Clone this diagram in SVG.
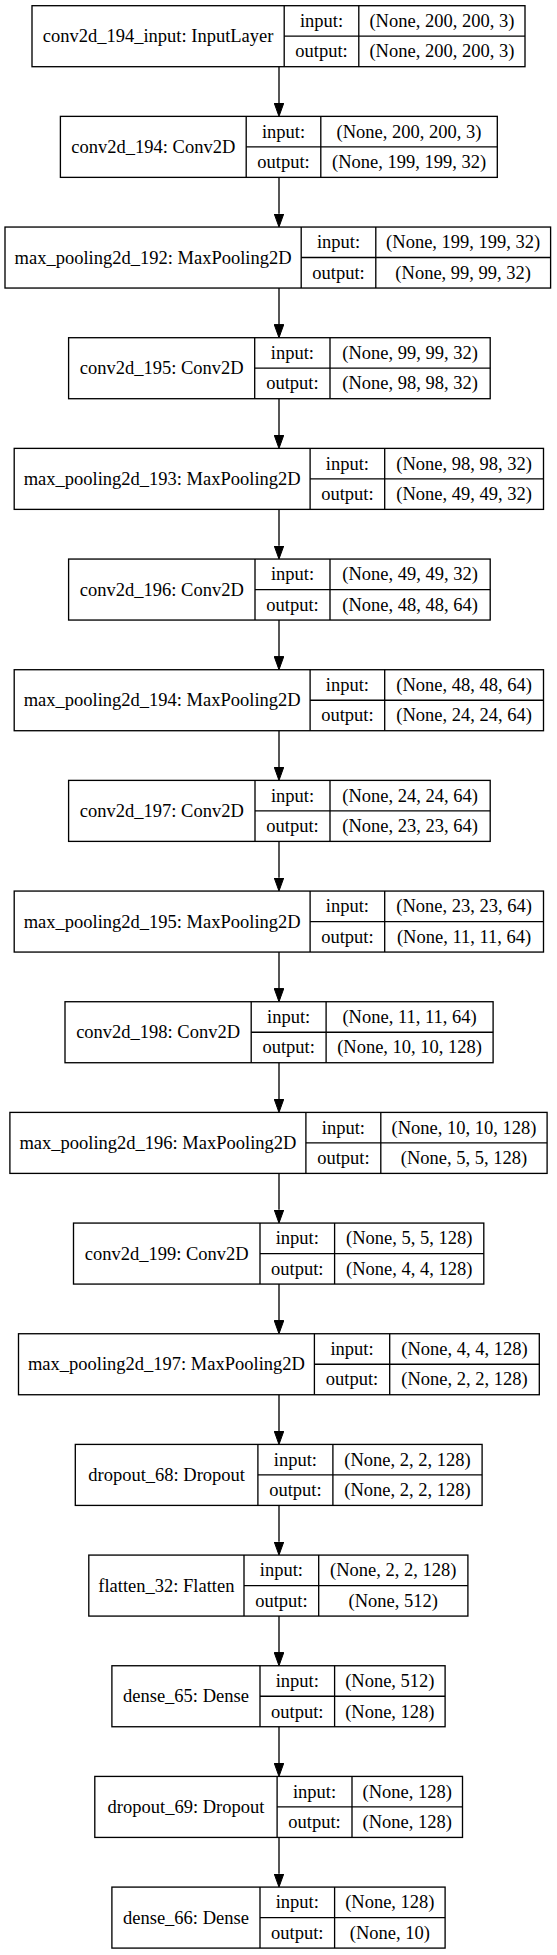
<svg xmlns="http://www.w3.org/2000/svg" width="557" height="1955" viewBox="0 0 557 1955">
<style>
.b{fill:#fff;stroke:#000;stroke-width:1.33}
.l{stroke:#000;stroke-width:1.33;fill:none}
text{font-family:"Liberation Serif","Times New Roman",serif;font-size:18.5px;fill:#000;text-anchor:middle}
.e{stroke:#000;stroke-width:1.33;fill:none;marker-end:url(#ah)}
</style>
<defs>
<marker id="ah" viewBox="0 0 13.3 9.6" markerWidth="13.3" markerHeight="9.6" markerUnits="userSpaceOnUse" refX="0" refY="4.8" orient="auto">
<path d="M0,0 L13.3,4.8 L0,9.6 z" fill="#000" stroke="#000" stroke-width="1"/>
</marker>
</defs>
<rect width="557" height="1955" fill="#fff"/>
<g id="connectors">
<line class="e" x1="279" y1="66.7" x2="279" y2="103.07"/>
<line class="e" x1="279" y1="177.37" x2="279" y2="213.74"/>
<line class="e" x1="279" y1="288.04" x2="279" y2="324.41"/>
<line class="e" x1="279" y1="398.71" x2="279" y2="435.08"/>
<line class="e" x1="279" y1="509.38" x2="279" y2="545.75"/>
<line class="e" x1="279" y1="620.05" x2="279" y2="656.42"/>
<line class="e" x1="279" y1="730.72" x2="279" y2="767.09"/>
<line class="e" x1="279" y1="841.39" x2="279" y2="877.76"/>
<line class="e" x1="279" y1="952.06" x2="279" y2="988.43"/>
<line class="e" x1="279" y1="1062.73" x2="279" y2="1099.1"/>
<line class="e" x1="279" y1="1173.4" x2="279" y2="1209.77"/>
<line class="e" x1="279" y1="1284.07" x2="279" y2="1320.44"/>
<line class="e" x1="279" y1="1394.74" x2="279" y2="1431.11"/>
<line class="e" x1="279" y1="1505.41" x2="279" y2="1541.78"/>
<line class="e" x1="279" y1="1616.08" x2="279" y2="1652.45"/>
<line class="e" x1="279" y1="1726.75" x2="279" y2="1763.12"/>
<line class="e" x1="279" y1="1837.42" x2="279" y2="1873.79"/>
</g>
<g id="conv2d_194_input" transform="translate(0,5.7)">
<rect class="b" x="32" y="0" width="493" height="61"/>
<line class="l" x1="284.2" y1="0" x2="284.2" y2="61"/><line class="l" x1="358.8" y1="0" x2="358.8" y2="61"/><line class="l" x1="284.2" y1="30.5" x2="525" y2="30.5"/>
<text x="158.1" y="36.5">conv2d_194_input: InputLayer</text>
<text x="321.5" y="21.25">input:</text><text x="321.5" y="51.75">output:</text>
<text x="441.9" y="21.25">(None, 200, 200, 3)</text><text x="441.9" y="51.75">(None, 200, 200, 3)</text>
</g>
<g id="conv2d_194" transform="translate(0,116.37)">
<rect class="b" x="60.4" y="0" width="436.9" height="61"/>
<line class="l" x1="246.2" y1="0" x2="246.2" y2="61"/><line class="l" x1="320.8" y1="0" x2="320.8" y2="61"/><line class="l" x1="246.2" y1="30.5" x2="497.3" y2="30.5"/>
<text x="153.3" y="36.5">conv2d_194: Conv2D</text>
<text x="283.5" y="21.25">input:</text><text x="283.5" y="51.75">output:</text>
<text x="409.05" y="21.25">(None, 200, 200, 3)</text><text x="409.05" y="51.75">(None, 199, 199, 32)</text>
</g>
<g id="max_pooling2d_192" transform="translate(0,227.04)">
<rect class="b" x="5" y="0" width="545.6" height="61"/>
<line class="l" x1="301.2" y1="0" x2="301.2" y2="61"/><line class="l" x1="375.8" y1="0" x2="375.8" y2="61"/><line class="l" x1="301.2" y1="30.5" x2="550.6" y2="30.5"/>
<text x="153.1" y="36.5">max_pooling2d_192: MaxPooling2D</text>
<text x="338.5" y="21.25">input:</text><text x="338.5" y="51.75">output:</text>
<text x="463.2" y="21.25">(None, 199, 199, 32)</text><text x="463.2" y="51.75">(None, 99, 99, 32)</text>
</g>
<g id="conv2d_195" transform="translate(0,337.71)">
<rect class="b" x="68.6" y="0" width="421.6" height="61"/>
<line class="l" x1="254.7" y1="0" x2="254.7" y2="61"/><line class="l" x1="330" y1="0" x2="330" y2="61"/><line class="l" x1="254.7" y1="30.5" x2="490.2" y2="30.5"/>
<text x="161.65" y="36.5">conv2d_195: Conv2D</text>
<text x="292.35" y="21.25">input:</text><text x="292.35" y="51.75">output:</text>
<text x="410.1" y="21.25">(None, 99, 99, 32)</text><text x="410.1" y="51.75">(None, 98, 98, 32)</text>
</g>
<g id="max_pooling2d_193" transform="translate(0,448.38)">
<rect class="b" x="14.2" y="0" width="529.3" height="61"/>
<line class="l" x1="310.1" y1="0" x2="310.1" y2="61"/><line class="l" x1="384.7" y1="0" x2="384.7" y2="61"/><line class="l" x1="310.1" y1="30.5" x2="543.5" y2="30.5"/>
<text x="162.15" y="36.5">max_pooling2d_193: MaxPooling2D</text>
<text x="347.4" y="21.25">input:</text><text x="347.4" y="51.75">output:</text>
<text x="464.1" y="21.25">(None, 98, 98, 32)</text><text x="464.1" y="51.75">(None, 49, 49, 32)</text>
</g>
<g id="conv2d_196" transform="translate(0,559.05)">
<rect class="b" x="68.6" y="0" width="421.6" height="61"/>
<line class="l" x1="255" y1="0" x2="255" y2="61"/><line class="l" x1="330" y1="0" x2="330" y2="61"/><line class="l" x1="255" y1="30.5" x2="490.2" y2="30.5"/>
<text x="161.8" y="36.5">conv2d_196: Conv2D</text>
<text x="292.5" y="21.25">input:</text><text x="292.5" y="51.75">output:</text>
<text x="410.1" y="21.25">(None, 49, 49, 32)</text><text x="410.1" y="51.75">(None, 48, 48, 64)</text>
</g>
<g id="max_pooling2d_194" transform="translate(0,669.72)">
<rect class="b" x="14.2" y="0" width="529.3" height="61"/>
<line class="l" x1="310.1" y1="0" x2="310.1" y2="61"/><line class="l" x1="384.7" y1="0" x2="384.7" y2="61"/><line class="l" x1="310.1" y1="30.5" x2="543.5" y2="30.5"/>
<text x="162.15" y="36.5">max_pooling2d_194: MaxPooling2D</text>
<text x="347.4" y="21.25">input:</text><text x="347.4" y="51.75">output:</text>
<text x="464.1" y="21.25">(None, 48, 48, 64)</text><text x="464.1" y="51.75">(None, 24, 24, 64)</text>
</g>
<g id="conv2d_197" transform="translate(0,780.39)">
<rect class="b" x="68.6" y="0" width="421.6" height="61"/>
<line class="l" x1="255" y1="0" x2="255" y2="61"/><line class="l" x1="330" y1="0" x2="330" y2="61"/><line class="l" x1="255" y1="30.5" x2="490.2" y2="30.5"/>
<text x="161.8" y="36.5">conv2d_197: Conv2D</text>
<text x="292.5" y="21.25">input:</text><text x="292.5" y="51.75">output:</text>
<text x="410.1" y="21.25">(None, 24, 24, 64)</text><text x="410.1" y="51.75">(None, 23, 23, 64)</text>
</g>
<g id="max_pooling2d_195" transform="translate(0,891.06)">
<rect class="b" x="14.2" y="0" width="529.3" height="61"/>
<line class="l" x1="310.1" y1="0" x2="310.1" y2="61"/><line class="l" x1="384.7" y1="0" x2="384.7" y2="61"/><line class="l" x1="310.1" y1="30.5" x2="543.5" y2="30.5"/>
<text x="162.15" y="36.5">max_pooling2d_195: MaxPooling2D</text>
<text x="347.4" y="21.25">input:</text><text x="347.4" y="51.75">output:</text>
<text x="464.1" y="21.25">(None, 23, 23, 64)</text><text x="464.1" y="51.75">(None, 11, 11, 64)</text>
</g>
<g id="conv2d_198" transform="translate(0,1001.73)">
<rect class="b" x="65" y="0" width="428.1" height="61"/>
<line class="l" x1="251.2" y1="0" x2="251.2" y2="61"/><line class="l" x1="326.1" y1="0" x2="326.1" y2="61"/><line class="l" x1="251.2" y1="30.5" x2="493.1" y2="30.5"/>
<text x="158.1" y="36.5">conv2d_198: Conv2D</text>
<text x="288.65" y="21.25">input:</text><text x="288.65" y="51.75">output:</text>
<text x="409.6" y="21.25">(None, 11, 11, 64)</text><text x="409.6" y="51.75">(None, 10, 10, 128)</text>
</g>
<g id="max_pooling2d_196" transform="translate(0,1112.4)">
<rect class="b" x="9.9" y="0" width="537.2" height="61"/>
<line class="l" x1="305.9" y1="0" x2="305.9" y2="61"/><line class="l" x1="380.8" y1="0" x2="380.8" y2="61"/><line class="l" x1="305.9" y1="30.5" x2="547.1" y2="30.5"/>
<text x="157.9" y="36.5">max_pooling2d_196: MaxPooling2D</text>
<text x="343.35" y="21.25">input:</text><text x="343.35" y="51.75">output:</text>
<text x="463.95" y="21.25">(None, 10, 10, 128)</text><text x="463.95" y="51.75">(None, 5, 5, 128)</text>
</g>
<g id="conv2d_199" transform="translate(0,1223.07)">
<rect class="b" x="73.5" y="0" width="410.3" height="61"/>
<line class="l" x1="260" y1="0" x2="260" y2="61"/><line class="l" x1="334.6" y1="0" x2="334.6" y2="61"/><line class="l" x1="260" y1="30.5" x2="483.8" y2="30.5"/>
<text x="166.75" y="36.5">conv2d_199: Conv2D</text>
<text x="297.3" y="21.25">input:</text><text x="297.3" y="51.75">output:</text>
<text x="409.2" y="21.25">(None, 5, 5, 128)</text><text x="409.2" y="51.75">(None, 4, 4, 128)</text>
</g>
<g id="max_pooling2d_197" transform="translate(0,1333.74)">
<rect class="b" x="18.5" y="0" width="520.8" height="61"/>
<line class="l" x1="314.4" y1="0" x2="314.4" y2="61"/><line class="l" x1="389.7" y1="0" x2="389.7" y2="61"/><line class="l" x1="314.4" y1="30.5" x2="539.3" y2="30.5"/>
<text x="166.45" y="36.5">max_pooling2d_197: MaxPooling2D</text>
<text x="352.05" y="21.25">input:</text><text x="352.05" y="51.75">output:</text>
<text x="464.5" y="21.25">(None, 4, 4, 128)</text><text x="464.5" y="51.75">(None, 2, 2, 128)</text>
</g>
<g id="dropout_68" transform="translate(0,1444.41)">
<rect class="b" x="75.3" y="0" width="406.8" height="61"/>
<line class="l" x1="257.9" y1="0" x2="257.9" y2="61"/><line class="l" x1="332.9" y1="0" x2="332.9" y2="61"/><line class="l" x1="257.9" y1="30.5" x2="482.1" y2="30.5"/>
<text x="166.6" y="36.5">dropout_68: Dropout</text>
<text x="295.4" y="21.25">input:</text><text x="295.4" y="51.75">output:</text>
<text x="407.5" y="21.25">(None, 2, 2, 128)</text><text x="407.5" y="51.75">(None, 2, 2, 128)</text>
</g>
<g id="flatten_32" transform="translate(0,1555.08)">
<rect class="b" x="88.8" y="0" width="379.1" height="61"/>
<line class="l" x1="244" y1="0" x2="244" y2="61"/><line class="l" x1="318.7" y1="0" x2="318.7" y2="61"/><line class="l" x1="244" y1="30.5" x2="467.9" y2="30.5"/>
<text x="166.4" y="36.5">flatten_32: Flatten</text>
<text x="281.35" y="21.25">input:</text><text x="281.35" y="51.75">output:</text>
<text x="393.3" y="21.25">(None, 2, 2, 128)</text><text x="393.3" y="51.75">(None, 512)</text>
</g>
<g id="dense_65" transform="translate(0,1665.75)">
<rect class="b" x="111.9" y="0" width="333.2" height="61"/>
<line class="l" x1="260" y1="0" x2="260" y2="61"/><line class="l" x1="334.6" y1="0" x2="334.6" y2="61"/><line class="l" x1="260" y1="30.5" x2="445.1" y2="30.5"/>
<text x="185.95" y="36.5">dense_65: Dense</text>
<text x="297.3" y="21.25">input:</text><text x="297.3" y="51.75">output:</text>
<text x="389.85" y="21.25">(None, 512)</text><text x="389.85" y="51.75">(None, 128)</text>
</g>
<g id="dropout_69" transform="translate(0,1776.42)">
<rect class="b" x="94.8" y="0" width="367.7" height="61"/>
<line class="l" x1="277.1" y1="0" x2="277.1" y2="61"/><line class="l" x1="352" y1="0" x2="352" y2="61"/><line class="l" x1="277.1" y1="30.5" x2="462.5" y2="30.5"/>
<text x="185.95" y="36.5">dropout_69: Dropout</text>
<text x="314.55" y="21.25">input:</text><text x="314.55" y="51.75">output:</text>
<text x="407.25" y="21.25">(None, 128)</text><text x="407.25" y="51.75">(None, 128)</text>
</g>
<g id="dense_66" transform="translate(0,1887.09)">
<rect class="b" x="111.9" y="0" width="333.2" height="61"/>
<line class="l" x1="260" y1="0" x2="260" y2="61"/><line class="l" x1="334.6" y1="0" x2="334.6" y2="61"/><line class="l" x1="260" y1="30.5" x2="445.1" y2="30.5"/>
<text x="185.95" y="36.5">dense_66: Dense</text>
<text x="297.3" y="21.25">input:</text><text x="297.3" y="51.75">output:</text>
<text x="389.85" y="21.25">(None, 128)</text><text x="389.85" y="51.75">(None, 10)</text>
</g>
</svg>
